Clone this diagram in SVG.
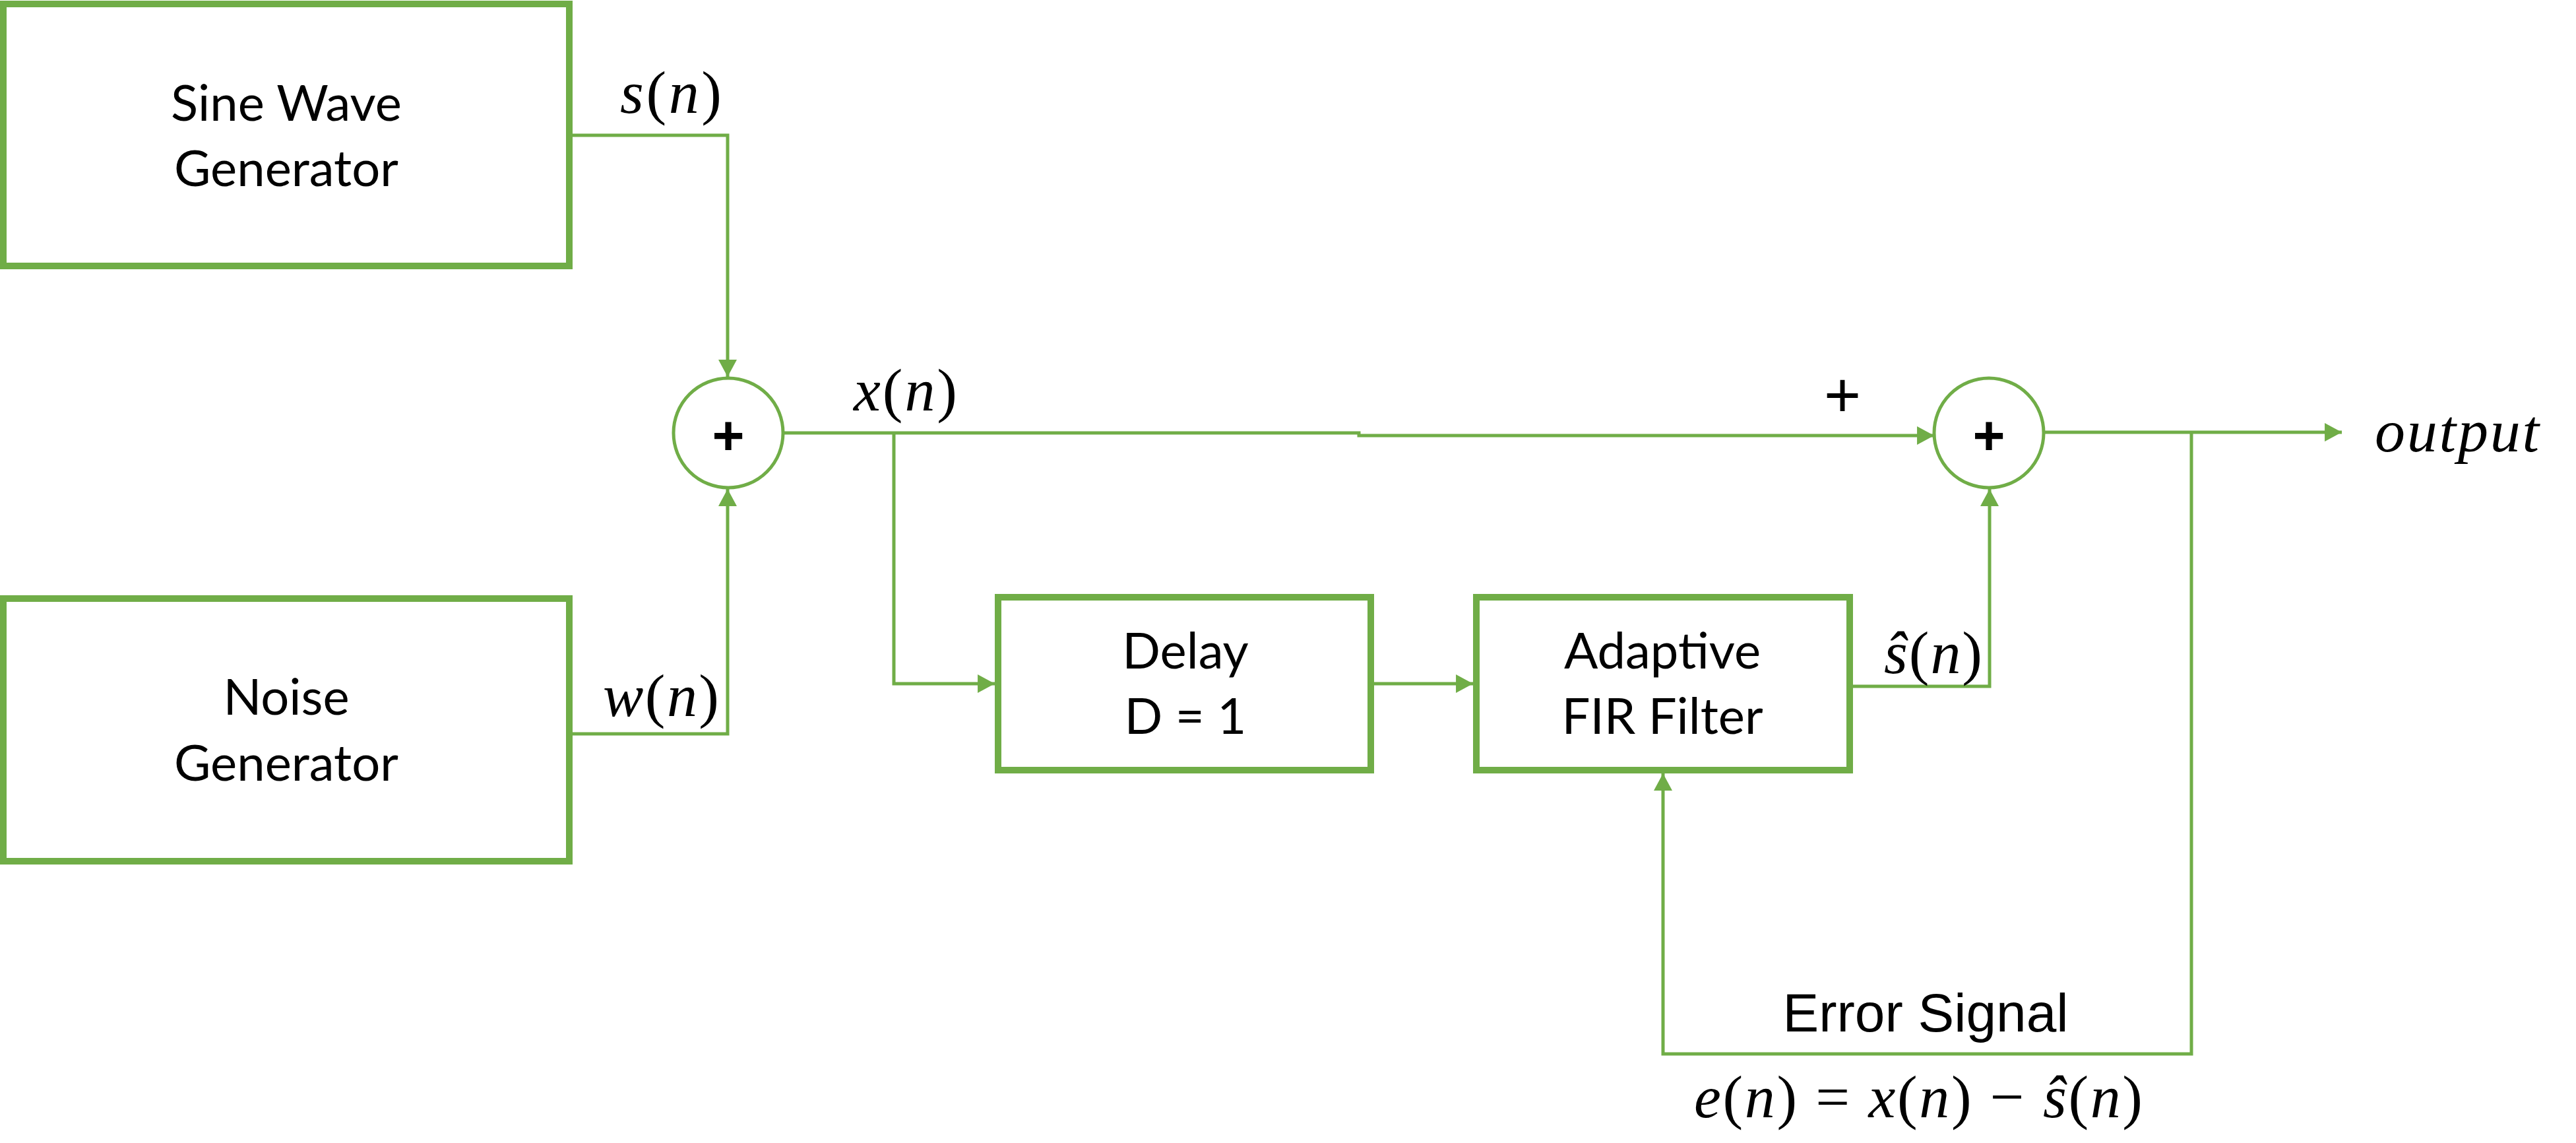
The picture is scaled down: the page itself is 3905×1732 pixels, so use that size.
<svg xmlns="http://www.w3.org/2000/svg" width="3905" height="1732" viewBox="0 0 3905 1732">
<defs>
<marker id="arr" markerUnits="userSpaceOnUse" markerWidth="26" markerHeight="28" viewBox="0 0 25 27" refX="25" refY="13.5" orient="auto">
<path d="M0,0 L25,13.5 L0,27 z" fill="#70AD47"/>
</marker>
<style>
.box{fill:#fff;stroke:#70AD47;stroke-width:10}
.sum{fill:#fff;stroke:#70AD47;stroke-width:5}
.wire{fill:none;stroke:#70AD47;stroke-width:5}
.lbl{font-family:Lato,"Liberation Sans",sans-serif;font-size:76px;fill:#000;text-anchor:middle}
.math{font-family:"Liberation Serif",serif;font-size:92px;fill:#000}
.it{font-style:italic}
.plus{font-family:"Liberation Sans",sans-serif;font-weight:bold;font-size:84px;text-anchor:middle}
</style>
</defs>
<rect width="3905" height="1732" fill="#fff"/>
<g id="connectors">
<path class="wire" d="M868,205 H1103 V571" marker-end="url(#arr)"/>
<path class="wire" d="M868,1112 H1103 V741" marker-end="url(#arr)"/>
<path class="wire" d="M1187,656 H2060 V660 H2932" marker-end="url(#arr)"/>
<path class="wire" d="M1355,656 V1036 H1508" marker-end="url(#arr)"/>
<path class="wire" d="M2083,1036 H2233" marker-end="url(#arr)"/>
<path class="wire" d="M2809,1040 H3016 V741" marker-end="url(#arr)"/>
<path class="wire" d="M3098,655 H3550" marker-end="url(#arr)"/>
<path class="wire" d="M3322,655 V1597 H2521 V1172" marker-end="url(#arr)"/>
</g>
<g id="sine">
<rect class="box" x="5" y="6" width="858" height="397"/>
<text class="lbl" x="434" y="183">Sine Wave</text>
<text class="lbl" x="434" y="282">Generator</text>
</g>
<g id="noise">
<rect class="box" x="5" y="907" width="858" height="398"/>
<text class="lbl" x="434" y="1083">Noise</text>
<text class="lbl" x="434" y="1183">Generator</text>
</g>
<g id="sum1">
<circle class="sum" cx="1104" cy="656" r="83"/>
<text class="plus" x="1104" y="689">+</text>
</g>
<g id="delay">
<rect class="box" x="1513" y="905" width="565" height="262"/>
<text class="lbl" x="1797" y="1013">Delay</text>
<text class="lbl" x="1797" y="1112">D = 1</text>
</g>
<g id="fir">
<rect class="box" x="2238" y="905" width="566" height="262"/>
<text class="lbl" x="2520" y="1013">Adaptive</text>
<text class="lbl" x="2520" y="1112">FIR Filter</text>
</g>
<g id="sum2">
<circle class="sum" cx="3015" cy="656" r="83"/>
<text class="plus" x="3015" y="689">+</text>
</g>
<g id="labels">
<text class="math" x="940" y="171" textLength="154"><tspan class="it">s</tspan>(<tspan class="it">n</tspan>)</text>
<text class="math" x="914" y="1085" textLength="176"><tspan class="it">w</tspan>(<tspan class="it">n</tspan>)</text>
<text class="math" x="1294" y="622" textLength="157"><tspan class="it">x</tspan>(<tspan class="it">n</tspan>)</text>
<text class="math" x="2856" y="1020" textLength="149"><tspan class="it">ŝ</tspan>(<tspan class="it">n</tspan>)</text>
<text class="math it" x="3600" y="684" textLength="249">output</text>
<text style="font-family:'Liberation Sans',sans-serif;font-size:96px;text-anchor:middle" x="2793" y="632">+</text>
<text style="font-family:'Liberation Sans',sans-serif;font-size:82px;text-anchor:middle" x="2919" y="1563">Error Signal</text>
<text class="math" x="2568" y="1693" textLength="680"><tspan class="it">e</tspan>(<tspan class="it">n</tspan>) = <tspan class="it">x</tspan>(<tspan class="it">n</tspan>) − <tspan class="it">ŝ</tspan>(<tspan class="it">n</tspan>)</text>
</g>
</svg>
